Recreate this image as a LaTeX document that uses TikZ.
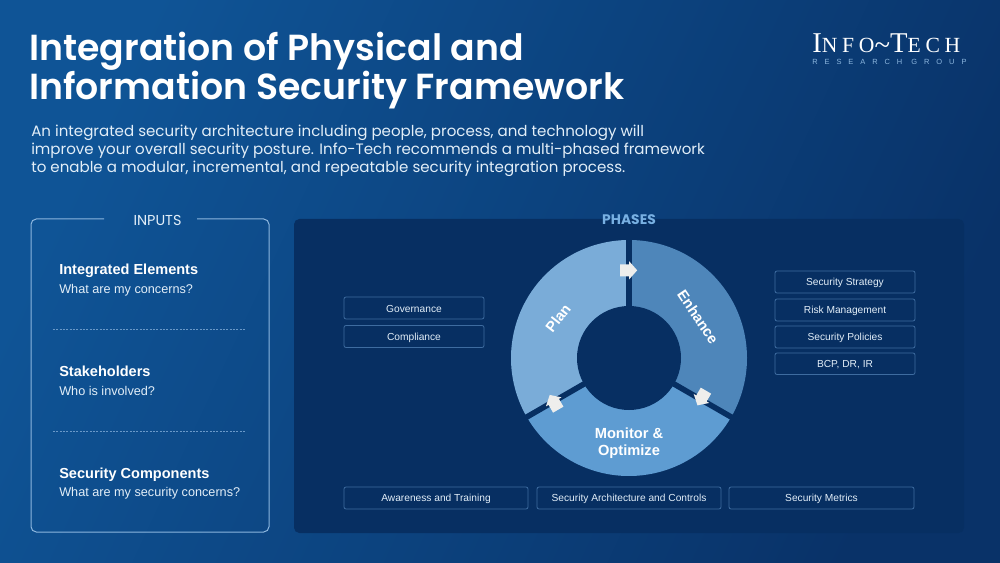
\documentclass[tikz,border=0pt]{standalone}
\usepackage{fontspec}
\setmainfont{Liberation Sans}
\newfontfamily\headfont{Poppins SemiBold}
\newfontfamily\inputfont{Poppins}
\newfontfamily\logofont[LetterSpace=22]{Liberation Serif}
\newfontfamily\logosmall[LetterSpace=93]{Liberation Sans}
\newcommand{\logobig}{\fontsize{21.5}{22}\selectfont}
\newcommand{\logosm}{\fontsize{16.2}{22}\selectfont}
\definecolor{bgtop}{RGB}{15,84,150}
\definecolor{bgbottom}{RGB}{9,50,104}
\definecolor{panelblue}{RGB}{7,47,98}
\definecolor{edgeblue}{RGB}{62,108,160}
\definecolor{frameblue}{RGB}{140,182,222}
\definecolor{dashblue}{RGB}{105,152,200}
\definecolor{planblue}{RGB}{122,172,216}
\definecolor{enhanceblue}{RGB}{78,134,186}
\definecolor{monitorblue}{RGB}{94,156,210}
\definecolor{phaseblue}{RGB}{120,176,226}
\definecolor{softwhite}{RGB}{226,238,248}
\definecolor{arrowwhite}{RGB}{238,238,236}
\tikzset{
  listbox/.style={draw=edgeblue,line width=0.6pt,rounded corners=1.5pt,fill=panelblue},
  boxtext/.style={text=softwhite,font=\fontsize{7.65}{10}\selectfont,inner sep=0pt,yshift=-0.7pt},
  headtext/.style={anchor=base west,text=white,inner sep=0pt,font=\fontsize{10.9}{13}\selectfont\bfseries},
  subtext/.style={anchor=base west,text=softwhite,inner sep=0pt,font=\fontsize{9.5}{11}\selectfont},
  wheeltext/.style={text=white,inner sep=0pt,font=\fontsize{11}{12.6}\selectfont\bfseries,align=center},
  turnarrow/.style={fill=arrowwhite,draw=none}
}
\begin{document}
\begin{tikzpicture}[x=0.75pt,y=0.75pt,yscale=-1,xscale=1]
\useasboundingbox (0,0) rectangle (1000,563);
%Background
\shade [left color=bgtop,right color=bgbottom,shading angle=65] (0,0) rectangle (1000,563);
%Phases panel
\fill [panelblue,rounded corners=4pt] (294,219) rectangle (964,533);
%Inputs frame
\draw [frameblue,line width=0.75pt,rounded corners=4pt] (104,219) -- (31,219) -- (31,532) -- (269,532) -- (269,219) -- (197,219) ;
\draw [dashblue,line width=0.5pt,dash pattern={on 1.5pt off 1pt}] (53,329.5) -- (245,329.5) ;
\draw [dashblue,line width=0.5pt,dash pattern={on 1.5pt off 1pt}] (53,431.5) -- (245,431.5) ;
%Wheel
\fill [enhanceblue] (629,358) -- ++(-90:118) arc [start angle=-90,end angle=30,radius=118] -- cycle ;
\fill [monitorblue] (629,358) -- ++(30:118) arc [start angle=30,end angle=150,radius=118] -- cycle ;
\fill [planblue] (629,358) -- ++(150:118) arc [start angle=150,end angle=270,radius=118] -- cycle ;
\draw [panelblue,line width=4.2pt] (629,358) -- ++(-90:119) ;
\draw [panelblue,line width=4.2pt] (629,358) -- ++(30:119) ;
\draw [panelblue,line width=4.2pt] (629,358) -- ++(150:119) ;
\fill [panelblue] (629,358) circle [radius=52] ;
%Arrows on the gaps
\fill [turnarrow,shift={(628.7,270.3)},rotate=0] (-8.5,-6) -- (0.5,-6) -- (0.5,-9) -- (8.5,0) -- (0.5,9) -- (0.5,6) -- (-8.5,6) -- cycle ;
\fill [turnarrow,shift={(701.7,398)},rotate=120] (-8.5,-6) -- (0.5,-6) -- (0.5,-9) -- (8.5,0) -- (0.5,9) -- (0.5,6) -- (-8.5,6) -- cycle ;
\fill [turnarrow,shift={(554,402.3)},rotate=240] (-8.5,-6) -- (0.5,-6) -- (0.5,-9) -- (8.5,0) -- (0.5,9) -- (0.5,6) -- (-8.5,6) -- cycle ;

% Text Node
\draw (29,67.5) node (title) [anchor=west,inner sep=0pt,align=left,text=white,yshift=-2.5pt,font=\headfont\fontsize{27.2}{29.3}\selectfont] {Integration of Physical and\\Information Security Framework};
% Text Node
\draw (31,151) node (intro) [anchor=west,inner sep=0pt,align=left,text=softwhite,font=\inputfont\fontsize{11.3}{13.7}\selectfont] {An integrated security architecture including people, process, and technology will\\improve your overall security posture. Info-Tech recommends a multi-phased framework\\to enable a modular, incremental, and repeatable security integration process.};
% Text Node
\draw (812,44) node (logo) [anchor=west,inner sep=0pt,text=white,font=\logofont] {\logobig I\logosm NFO\raisebox{-1pt}{\logobig\textasciitilde}\logobig T\logosm ECH};
\draw (812,62) node (logosub) [anchor=west,inner sep=0pt,text=frameblue,font=\logosmall\fontsize{5.6}{7}\selectfont] {RESEARCH GROUP};
% Text Node
\draw (157.5,220) node (inputs) [inner sep=0pt,text=softwhite,font=\inputfont\fontsize{10.8}{12}\selectfont] {INPUTS};
\draw (59,274) node (elements) [headtext] {Integrated Elements};
\draw (59,293) node (concerns) [subtext] {What are my concerns?};
\draw (59,376) node (stakeholders) [headtext] {Stakeholders};
\draw (59,395.5) node (involved) [subtext] {Who is involved?};
\draw (59,478) node (components) [headtext] {Security Components};
\draw (59,496) node (securityconcerns) [subtext] {What are my security concerns?};
% Text Node
\draw (629,220) node (phases) [inner sep=0pt,text=phaseblue,font=\inputfont\bfseries\fontsize{10.4}{12}\selectfont] {PHASES};
\draw (558,318) node (plan) [wheeltext,rotate=52] {Plan};
\draw (698,317) node (enhance) [wheeltext,rotate=-56] {Enhance};
\draw (629,443.5) node (monitor) [wheeltext] {Monitor \&\\Optimize};
%Boxes
\draw [listbox] (344,297) rectangle (484,319) node (governance) [midway,boxtext] {Governance};
\draw [listbox] (344,325.5) rectangle (484,347.5) node (compliance) [midway,boxtext] {Compliance};
\draw [listbox] (775,271) rectangle (915,293) node (strategy) [midway,boxtext] {Security Strategy};
\draw [listbox] (775,299) rectangle (915,321) node (risk) [midway,boxtext] {Risk Management};
\draw [listbox] (775,326) rectangle (915,348) node (policies) [midway,boxtext] {Security Policies};
\draw [listbox] (775,353) rectangle (915,374.5) node (bcp) [midway,boxtext] {BCP, DR, IR};
\draw [listbox] (344,487) rectangle (528,509) node (awareness) [midway,boxtext] {Awareness and Training};
\draw [listbox] (537,487) rectangle (721,509) node (architecture) [midway,boxtext] {Security Architecture and Controls};
\draw [listbox] (729,487) rectangle (914,509) node (metrics) [midway,boxtext] {Security Metrics};
\end{tikzpicture}
\end{document}
